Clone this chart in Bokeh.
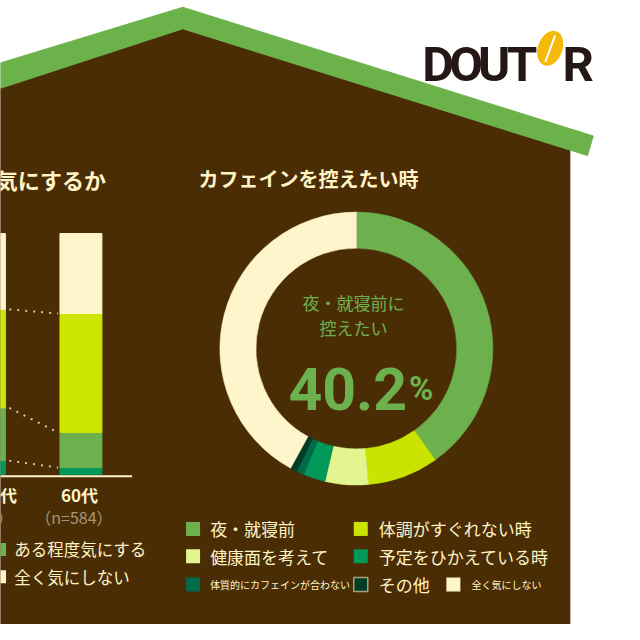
import math
from bokeh.plotting import figure
from bokeh.models import Range1d, ColumnDataSource
from bokeh.embed import file_html
from bokeh.resources import INLINE
from bokeh.core.properties import value

# ---------------- data ----------------
left_title = "気にするか"
right_title = "カフェインを控えたい時"

bar_groups = ["50代", "60代"]
bar_n_labels = ["（n=590）", "（n=584）"]
bar_categories = ["とても気にする", "ある程度気にする", "あまり気にしない", "全く気にしない"]
bar_50s = [5.7, 21.9, 40.9, 31.5]
bar_60s = [2.8, 14.6, 49.4, 33.2]
bar_legend_shown = ["ある程度気にする", "全く気にしない"]

donut_labels = ["夜・就寝前", "体調がすぐれない時", "健康面を考えて", "予定をひかえている時",
                "体質的にカフェインが合わない", "その他", "全く気にしない"]
donut_values = [40.2, 8.4, 5.1, 2.6, 0.9, 0.8, 42.0]
center_lines = ["夜・就寝前に", "控えたい"]

logo_letters = ["D", "O", "U", "T", "O", "R"]

# ---------------- styles / layout ----------------
BROWN = "#4b2d05"
ROOF = "#6cb24a"
CREAM = "#fff3c8"
GRAY = "#a59677"
bar_colors = ["#00995a", "#6db14f", "#cce600", "#fff5cc"]
donut_colors = ["#6db14f", "#c9e400", "#e3f58e", "#00995a", "#006b4a", "#003d26", "#fff5cc"]
JP = value("Noto Sans CJK JP")


def Y(py):
    return 640 - py


p = figure(width=624, height=624, x_range=Range1d(0, 640), y_range=Range1d(0, 640),
           output_backend="svg", toolbar_location=None,
           x_axis_location=None, y_axis_location=None, min_border=0)
p.grid.visible = False
p.outline_line_color = None
p.background_fill_color = "white"
p.border_fill_color = "white"

# house
p.patch([0, 187, 584, 584, 0], [Y(v) for v in [90, 29, 153.7, 640, 640]],
        fill_color=BROWN, line_color=BROWN)
p.patch([0, 187, 608, 602, 187, 0], [Y(v) for v in [64, 7, 139, 159, 29, 90]],
        fill_color=ROOF, line_color=ROOF)

# logo
logo_x0, logo_dx = 449, 28.7
for i, ch in enumerate(logo_letters):
    cx = logo_x0 + i * logo_dx
    if i == 4:
        p.ellipse(x=cx, y=Y(49), width=25, height=37, angle=-0.35,
                  fill_color="#f5b90a", line_color=None)
        p.segment(x0=cx - 5, y0=Y(63), x1=cx + 5, y1=Y(36), line_color="white", line_width=2)
    else:
        p.text(x=[cx], y=[Y(66)], text=[ch], text_font=value("Roboto"), text_font_style="bold",
               text_font_size="49px", text_color="#231815", text_align="center",
               text_baseline="alphabetic")

# titles
p.text(x=[108], y=[Y(183)], text=[left_title], text_font=JP, text_font_size="22px",
       text_font_style="bold", text_color=CREAM, text_align="right", text_baseline="middle")
p.text(x=[316], y=[Y(183)], text=[right_title], text_font=JP, text_font_size="20px",
       text_font_style="bold", text_color=CREAM, text_align="center", text_baseline="middle")

# ---------------- stacked bars ----------------
BAR_BASE_PY, BAR_TOP_PY = 486, 239
px_per_pct = (BAR_BASE_PY - BAR_TOP_PY) / 100.0
base_data_y = Y(BAR_BASE_PY)
p.extra_y_ranges = {"pct": Range1d((0 - base_data_y) / px_per_pct, (640 - base_data_y) / px_per_pct)}

BAR_X = [-16.5, 82.5]
BAR_W = 43
series = [bar_50s, bar_60s]
xs, bots, tops, cols = [], [], [], []
cums = []
for gi, vals in enumerate(series):
    c = 0.0
    cum = [0.0]
    for k, v in enumerate(vals):
        xs.append(BAR_X[gi]); bots.append(c); tops.append(c + v); cols.append(bar_colors[k])
        c += v
        cum.append(c)
    cums.append(cum)
p.vbar(x="x", width=BAR_W, bottom="b", top="t", color="c", y_range_name="pct",
       source=ColumnDataSource(dict(x=xs, b=bots, t=tops, c=cols)))

for k in (1, 2, 3):
    p.segment(x0=BAR_X[0] + BAR_W / 2 + 4, y0=cums[0][k], x1=BAR_X[1] - BAR_W / 2 - 2, y1=cums[1][k],
              y_range_name="pct", line_color="#d9c69c", line_width=2, line_dash="2 6")

p.segment(x0=0, y0=Y(488), x1=135, y1=Y(488), line_color=CREAM, line_width=2)

label_x = [17, 100]
n_x = [13, 115]
for gi in range(2):
    p.text(x=[label_x[gi]], y=[Y(507)], text=[bar_groups[gi]], text_font=JP, text_font_size="17px",
           text_font_style="bold", text_color=CREAM, text_align="right", text_baseline="middle")
    p.text(x=[n_x[gi]], y=[Y(530)], text=[bar_n_labels[gi]], text_font=JP, text_font_size="16px",
           text_color=GRAY, text_align="right", text_baseline="middle")

# left legend (visible column)
for j, lab in enumerate(bar_legend_shown):
    k = bar_categories.index(lab)
    yy = Y(563 + j * 28)
    p.scatter(x=[-1], y=[yy], marker="square", size=13, fill_color=bar_colors[k], line_color=None)
    p.text(x=[14], y=[yy], text=[lab], text_font=JP, text_font_size="16.5px",
           text_color=CREAM, text_align="left", text_baseline="middle")

# ---------------- donut ----------------
CX, CY = 365, Y(357)
total = sum(donut_values)
starts, ends = [], []
acc = 0.0
for v in donut_values:
    starts.append(math.pi / 2 - 2 * math.pi * acc / total)
    acc += v
    ends.append(math.pi / 2 - 2 * math.pi * acc / total)
p.annular_wedge(x=CX, y=CY, inner_radius=103, outer_radius=140, start_angle=starts, end_angle=ends,
                direction="clock", fill_color=donut_colors, line_color=donut_colors, line_width=0.5)

p.text(x=[362, 362], y=[Y(310), Y(335)], text=center_lines, text_font=JP, text_font_size="17px",
       text_color="#6db14f", text_align="center", text_baseline="middle")
p.text(x=[417], y=[Y(398)], text=[f"{donut_values[0]:.1f}"], text_font=value("Roboto"),
       text_font_style="bold", text_font_size="59px", text_color="#6db14f",
       text_align="right", text_baseline="alphabetic")
p.text(x=[419], y=[Y(398)], text=["%"], text_font=value("Roboto"), text_font_style="bold",
       text_font_size="33px", text_color="#6db14f", text_align="left", text_baseline="alphabetic")

# donut legend
sq_x = [197.5, 369.5, 197.5, 369.5, 197.5, 369.5, 464.5]
tx_x = [215, 388, 215, 388, 215, 388, 483]
row_y = [542, 542, 570, 570, 599, 599, 599]
sizes = ["17px", "17px", "17px", "17px", "10px", "17px", "10px"]
for i, lab in enumerate(donut_labels):
    edge = "#a8a47a" if i == 5 else None
    p.scatter(x=[sq_x[i]], y=[Y(row_y[i])], marker="square", size=14, fill_color=donut_colors[i],
              line_color=edge, line_width=1.5)
    p.text(x=[tx_x[i]], y=[Y(row_y[i])], text=[lab], text_font=JP, text_font_size=sizes[i],
           text_color=CREAM, text_align="left", text_baseline="middle")

open("out.html", "w").write(file_html(p, INLINE))
